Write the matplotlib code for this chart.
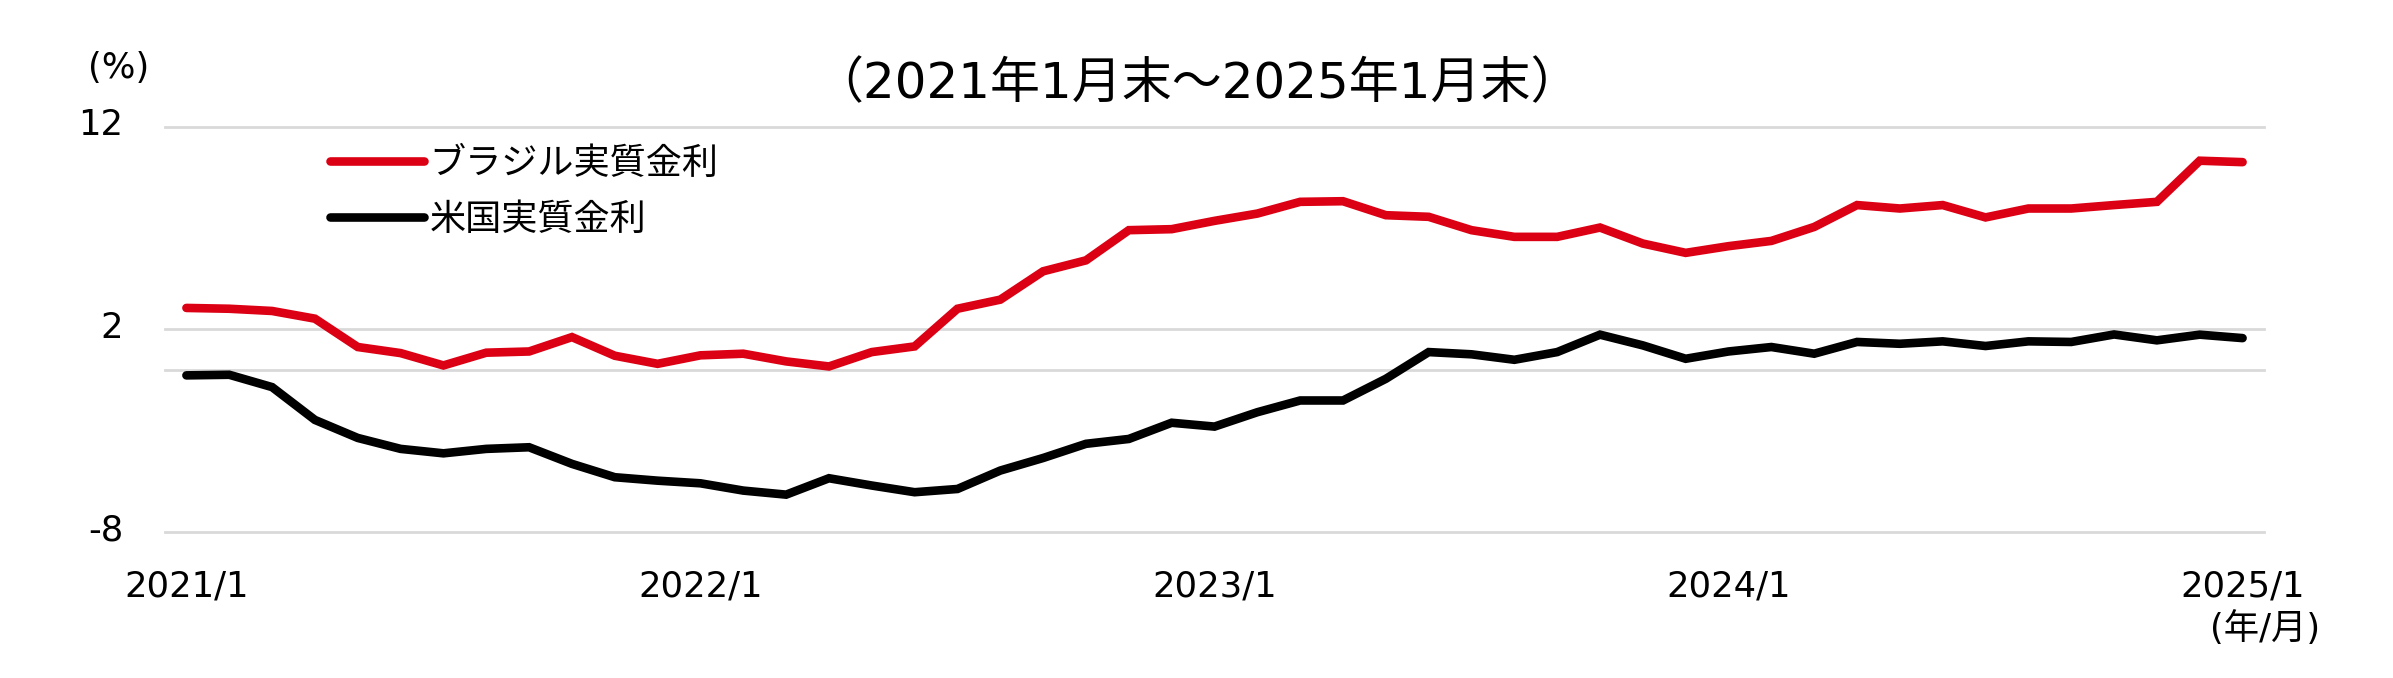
import matplotlib
matplotlib.use('Agg')
import matplotlib.pyplot as plt
import matplotlib.transforms as mtransforms

plt.rcParams['font.family'] = ['Noto Sans CJK JP', 'DejaVu Sans']
LATIN = ['DejaVu Sans', 'Noto Sans CJK JP']

months = ["2021/1", "2021/2", "2021/3", "2021/4", "2021/5", "2021/6", "2021/7", "2021/8", "2021/9", "2021/10", "2021/11", "2021/12",
          "2022/1", "2022/2", "2022/3", "2022/4", "2022/5", "2022/6", "2022/7", "2022/8", "2022/9", "2022/10", "2022/11", "2022/12",
          "2023/1", "2023/2", "2023/3", "2023/4", "2023/5", "2023/6", "2023/7", "2023/8", "2023/9", "2023/10", "2023/11", "2023/12",
          "2024/1", "2024/2", "2024/3", "2024/4", "2024/5", "2024/6", "2024/7", "2024/8", "2024/9", "2024/10", "2024/11", "2024/12",
          "2025/1"]

brazil = [3.05, 3.01, 2.90, 2.52, 1.12, 0.82, 0.21, 0.84, 0.90, 1.61, 0.69, 0.29,
          0.71, 0.79, 0.41, 0.16, 0.87, 1.15, 3.01, 3.46, 4.86, 5.40, 6.89, 6.94,
          7.35, 7.71, 8.29, 8.32, 7.63, 7.55, 6.89, 6.56, 6.56, 7.02, 6.23, 5.77,
          6.10, 6.36, 7.05, 8.13, 7.96, 8.13, 7.52, 7.96, 7.96, 8.13, 8.29, 10.32, 10.25]

us = [-0.28, -0.25, -0.86, -2.48, -3.37, -3.91, -4.13, -3.91, -3.83, -4.65, -5.31, -5.48,
      -5.61, -5.97, -6.17, -5.36, -5.72, -6.05, -5.89, -4.98, -4.36, -3.66, -3.42, -2.62,
      -2.81, -2.10, -1.52, -1.52, -0.45, 0.87, 0.76, 0.49, 0.87, 1.73, 1.20, 0.54,
      0.90, 1.12, 0.79, 1.37, 1.28, 1.40, 1.17, 1.40, 1.37, 1.74, 1.45, 1.73, 1.56]

series_names = ["ブラジル実質金利", "米国実質金利"]
yticks = [-8, 2, 12]
xtick_labels = ["2021/1", "2022/1", "2023/1", "2024/1", "2025/1"]
title = "（2021年1月末～2025年1月末）"

W, H = 2393, 678
fig = plt.figure(figsize=(W / 100, H / 100), dpi=100)
ax = fig.add_axes([165 / W, 1 - 531.7 / H, (2264 - 165) / W, (531.7 - 126.7) / H])

x = list(range(len(months)))
grid_c = '#d9d9d9'
for yv in yticks:
    ax.axhline(yv, color=grid_c, lw=2.0, zorder=1, clip_on=False)
ax.axhline(0, color=grid_c, lw=2.0, zorder=1, clip_on=False)

red = '#dc0014'
l1, = ax.plot(x, brazil, color=red, lw=6.2, solid_capstyle='round', solid_joinstyle='miter', zorder=3, label=series_names[0])
l2, = ax.plot(x, us, color='black', lw=6.2, solid_capstyle='round', solid_joinstyle='miter', zorder=3, label=series_names[1])

ax.set_xlim(-0.5, len(months) - 0.5)
ax.set_ylim(-8, 12)
for s in ax.spines.values():
    s.set_visible(False)

ax.set_yticks(yticks)
ax.set_yticklabels([str(v) for v in yticks], fontsize=25.5, family=LATIN)
ax.tick_params(axis='y', length=0, pad=30)
off = mtransforms.ScaledTranslation(0, 5 / 100, fig.dpi_scale_trans)
for lab in ax.get_yticklabels():
    lab.set_transform(lab.get_transform() + off)

xt = [months.index(m) for m in xtick_labels]
ax.set_xticks(xt)
ax.set_xticklabels(xtick_labels, fontsize=25.5, family=LATIN)
ax.tick_params(axis='x', length=0, pad=27)

fig.text(0.5, 1 - 84 / H, title, fontsize=36, ha='center', va='center', family=LATIN)
fig.text(119 / W, 1 - 68 / H, "(%)", fontsize=25.5, ha='center', va='center', family=LATIN)
fig.text(2265 / W, 1 - 629 / H, "(年/月)", fontsize=25.5, ha='center', va='center', family=LATIN)

leg = ax.legend(handles=[l1, l2], loc='upper left', bbox_to_anchor=(330 / W, 1 - 146 / H),
                bbox_transform=fig.transFigure, frameon=False, fontsize=26,
                handlelength=2.6, handletextpad=0.15, labelspacing=0.55, borderaxespad=0, borderpad=0)

fig.savefig('out.png', dpi=100)
